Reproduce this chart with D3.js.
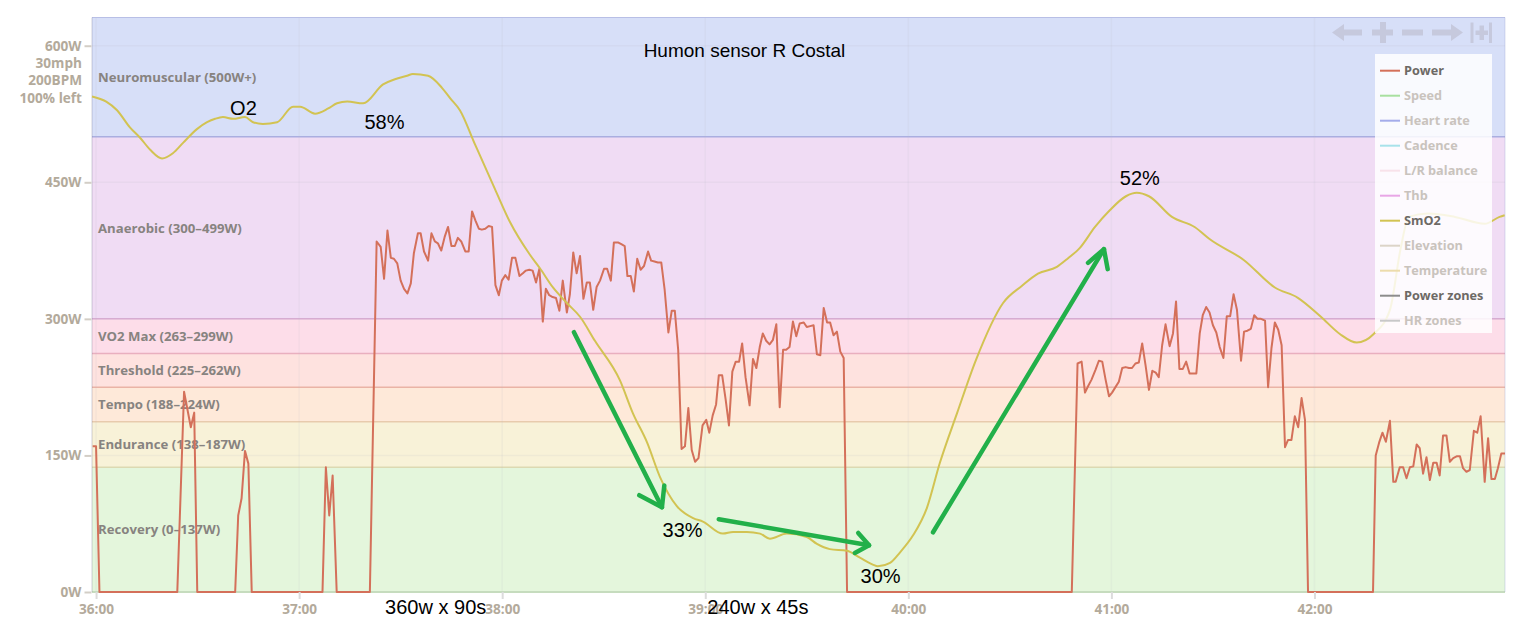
<!DOCTYPE html>
<html><head><meta charset="utf-8">
<script src="https://cdn.jsdelivr.net/npm/d3@7"></script>
<style>
html,body{margin:0;padding:0;background:#fff;}
svg{display:block;}
</style></head>
<body>
<svg id="chart" width="1528" height="622"></svg>
<script>
// ---------- DATA ----------
const chartTitle = "Humon sensor R Costal";
const startSec = 2160; // 36:00
const timeTicks = [2160, 2220, 2280, 2340, 2400, 2460, 2520];
const timeTickLabels = ["36:00", "37:00", "38:00", "39:00", "40:00", "41:00", "42:00"];
const powerTicks = [0, 150, 300, 450, 600];
const powerTickLabels = ["0W", "150W", "300W", "450W", "600W"];
const extraAxisLabels = ["30mph", "200BPM", "100% left"];

const zoneNames = ["Recovery (0–137W)", "Endurance (138–187W)", "Tempo (188–224W)", "Threshold (225–262W)", "VO2 Max (263–299W)", "Anaerobic (300–499W)", "Neuromuscular (500W+)"];
const zoneLower = [0, 137, 187, 225, 262, 300, 500];
const zoneFill = ["#e4f6dc", "#f8f2d8", "#fee9d9", "#fee2df", "#fddde9", "#f0dcf4", "#d7dff8"];
const zoneLine = ["#c6dcbe", "#dcd9b2", "#e8cbad", "#eab3a6", "#e9afbf", "#dbaad3", "#aaaee0"];

// seconds after 36:00
const powerSec = [-1.0,0,1.0,24.0,26.0,28.0,29.0,29.9,41.1,42.0,43.0,44.0,45.0,46.0,66.9,67.9,68.9,69.9,71.1,80.9,
 82.9,84.1,85.1,86.1,87.1,88.0,89.0,90.0,91.0,92.0,93.0,93.9,95.1,95.9,96.9,98.1,99.1,100.1,101.0,102.0,103.0,104.0,105.0,106.0,106.9,107.9,109.1,110.1,111.1,112.1,113.1,114.0,115.0,116.0,117.0,118.0,119.0,119.9,120.9,121.9,122.9,123.9,125.1,126.1,127.0,128.0,129.0,130.0,131.0,132.0,132.9,133.9,134.9,135.9,136.9,137.9,139.1,140.0,141.0,142.0,143.0,144.0,145.0,145.9,146.9,147.9,148.9,150.1,151.0,152.1,153.0,154.2,155.2,156.2,157.0,158.0,158.9,159.9,160.9,161.9,163.1,164.0,165.0,166.0,167.0,168.0,169.1,170.1,171.0,172.0,173.0,174.0,175.0,176.0,177.0,178.0,179.2,180.3,181.2,182.2,183.2,184.0,185.0,186.0,187.0,188.0,189.0,190.0,190.9,191.9,193.1,194.1,195.1,196.1,197.0,198.0,199.0,200.0,201.0,202.0,203.0,203.9,204.9,205.9,206.9,207.9,209.1,210.0,211.0,212.0,213.0,214.0,215.0,216.0,216.9,217.9,218.9,219.9,220.9,221.9,
 288.3,290.0,291.2,292.2,293.1,294.1,295.3,296.3,297.3,298.3,299.3,300.2,301.2,302.2,303.2,304.2,305.2,306.1,307.1,308.1,309.1,310.1,311.1,312.1,313.1,314.0,315.0,316.0,317.2,318.2,319.1,320.1,321.1,322.1,323.1,324.1,325.1,326.1,327.0,328.0,329.0,330.0,331.0,332.0,333.1,334.1,335.1,336.1,337.1,338.3,339.2,340.2,341.2,342.2,343.2,344.2,345.4,346.3,347.3,348.3,349.3,350.3,351.3,352.2,353.2,354.2,355.2,356.2,357.2,358.1,
 377.3,378.1,379.1,380.1,381.1,382.3,383.3,384.0,385.2,386.2,387.2,388.2,389.2,390.2,391.1,392.1,393.1,394.1,395.1,396.1,397.0,398.0,399.0,400.0,401.0,402.0,403.0,403.9,404.9,405.9,407.1,408.1,409.1,410.3,411.3,412.3,413.3,414.2,415.2,416.3];
const powerW = [160,160,0,0,220,181,197,0,0,84,103,155,141,0,0,137,84,128,0,0,
 385,379,344,397,367,366,361,342,333,328,339,372,394,394,374,364,394,385,383,375,390,401,380,380,389,385,374,374,418,408,399,398,399,402,401,337,326,342,348,343,367,367,347,350,353,354,353,340,355,297,333,326,324,323,309,342,307,327,373,350,369,322,340,340,310,335,342,355,355,342,384,384,382,380,347,347,330,366,354,358,374,364,363,362,362,332,285,309,309,266,157,160,202,156,143,147,183,189,175,194,206,238,238,212,183,242,253,253,273,236,205,256,246,269,284,276,272,277,294,203,266,266,269,297,281,295,296,291,292,293,261,260,312,296,296,282,286,264,257,0,
 0,251,253,219,226,233,244,254,253,233,215,219,225,231,246,247,246,246,251,252,273,249,222,243,241,236,271,294,270,284,319,245,245,253,240,240,240,284,304,313,307,293,285,269,257,303,303,327,310,254,286,287,289,304,300,300,298,225,268,296,288,271,159,167,167,193,181,213,189,0,
 0,150,164,175,165,188,121,121,137,137,125,137,138,162,158,130,148,123,142,142,128,172,172,143,147,149,149,136,132,134,177,175,193,121,169,124,124,136,152,152];

const smo2Sec = [-1.2,3.0,6.2,10.0,13.0,16.0,19.5,22.7,25.7,29.8,32.8,35.2,37.5,40.5,44.0,46.4,49.3,53.5,58.2,60.3,64.7,68.6,71.2,74.2,78.9,84.8,88.3,91.9,93.6,98.1,102.2,104.6,107.5,112.0,117.9,122.3,128.2,131.2,135.0,139.1,143.0,147.4,154.8,158.6,162.8,166.6,171.6,176.4,179.3,185.2,188.2,192.3,196.2,199.1,204.1,210.0,213.0,216.8,221.9,225.7,229.5,231.0,234.6,237.5,241.4,245.5,249.3,254.4,260.0,268.0,273.6,278.3,283.9,287.2,290.7,295.1,299.6,304.3,307.5,311.1,317.9,324.7,329.1,339.1,348.3,355.1,361.9,367.5,372.5,377.5,382.3,385.5,387.9,393.5,401.5,410.3,414.7,416.2];
const smo2Pct = [57.3,57.0,56.5,55.5,54.9,54.2,53.7,54.0,54.6,55.4,55.8,56.0,56.1,56.0,56.1,55.8,55.7,55.8,56.7,56.7,56.3,56.6,56.9,57.0,56.9,58.0,58.3,58.5,58.6,58.5,57.8,57.2,56.5,54.5,51.9,50.0,48.1,47.3,46.2,45.3,44.5,43.1,40.8,38.9,37.2,35.2,33.5,32.8,32.6,31.9,32.0,32.0,31.9,31.6,31.9,31.7,31.3,31.0,30.9,30.5,30.1,30.0,30.2,30.8,31.8,33.4,36.0,38.9,42.0,45.3,46.3,47.0,47.4,47.9,48.5,49.7,50.7,51.5,51.7,51.5,50.3,49.7,49.0,47.8,46.2,45.6,44.5,43.5,43.0,43.5,44.9,48.5,50.3,50.5,50.3,49.9,50.3,50.4];

const legendNames = ["Power", "Speed", "Heart rate", "Cadence", "L/R balance", "Thb", "SmO2", "Elevation", "Temperature", "Power zones", "HR zones"];
const legendColors = ["#d4705a", "#a8e0a0", "#a4acea", "#a8e2ea", "#f8e2ea", "#e8a6e6", "#d2c352", "#dcd4c8", "#ecdcac", "#8c8c8c", "#c8c8c8"];
const legendActive = [true, false, false, false, false, false, true, false, false, true, false];

// hand annotations (seconds after 36:00, watts)
const noteTexts = ["O2", "58%", "52%", "33%", "30%", "360w x 90s", "240w x 45s"];
const noteSec = [39.6, 79.3, 302.5, 167.4, 225.9, 85.4, 180.6];
const noteW = [523.8, 508.5, 446.9, 60.1, 9.6, -24.5, -24.5];
const arrowStartSec = [141.2, 184.0, 247.3];
const arrowStartW = [285.4, 79.9, 65.6];
const arrowTipSec = [167.2, 228.4, 297.8];
const arrowTipW = [93.1, 51.3, 376.6];
const arrowWing1Sec = [160.5, 225.2, 293.1];
const arrowWing1W = [106.3, 64.8, 361.5];
const arrowWing2Sec = [167.9, 224.2, 298.9];
const arrowWing2W = [116.9, 42.9, 354.6];

// ---------- CHART ----------
const svg = d3.select("#chart");
const L = 92, R = 1505, T = 17.5, B = 592;
const x = d3.scaleLinear().domain([2158.8, 2576.3]).range([L, R]);
const y = d3.scaleLinear().domain([0, 631]).range([B, T]);
const ySm = d3.scaleLinear().domain([30, 58.6]).range([y(28.2), y(568.9)]);
const axisFont = "'Open Sans', 'DejaVu Sans', sans-serif";
const axisColor = "#b3aa9b";

// zone bands
const zoneTop = zoneLower.map((v, i) => i < zoneLower.length - 1 ? zoneLower[i + 1] : 631);
const zg = svg.append("g");
zoneNames.forEach((n, i) => {
  zg.append("rect").attr("x", L).attr("width", R - L)
    .attr("y", y(zoneTop[i])).attr("height", y(zoneLower[i]) - y(zoneTop[i]))
    .attr("fill", zoneFill[i]);
});
// grid
const gg = svg.append("g");
timeTicks.forEach(t => gg.append("line").attr("x1", x(t)).attr("x2", x(t)).attr("y1", T).attr("y2", B)
  .attr("stroke", "rgba(190,190,200,0.12)").attr("stroke-width", 1.5));
powerTicks.slice(1).forEach(p => gg.append("line").attr("x1", L).attr("x2", R).attr("y1", y(p)).attr("y2", y(p))
  .attr("stroke", "rgba(190,190,200,0.15)").attr("stroke-width", 1.5));
// zone border lines
zoneNames.forEach((n, i) => {
  if (i === 0) return;
  zg.append("line").attr("x1", L).attr("x2", R).attr("y1", y(zoneLower[i])).attr("y2", y(zoneLower[i]))
    .attr("stroke", zoneLine[i]).attr("stroke-width", 1.5);
});
svg.append("line").attr("x1", L).attr("x2", R).attr("y1", B).attr("y2", B).attr("stroke", zoneLine[0]).attr("stroke-width", 2);
svg.append("line").attr("x1", L).attr("x2", R).attr("y1", T).attr("y2", T).attr("stroke", "#b8bfe6").attr("stroke-width", 1.2);
svg.append("line").attr("x1", R).attr("x2", R).attr("y1", T).attr("y2", B).attr("stroke", "rgba(150,160,210,0.35)").attr("stroke-width", 1);
svg.append("line").attr("x1", L).attr("x2", L).attr("y1", T).attr("y2", B).attr("stroke", "rgba(120,120,150,0.22)").attr("stroke-width", 1.5);

// zone labels
zoneNames.forEach((n, i) => {
  svg.append("text").attr("x", 98).attr("y", (y(zoneLower[i]) + y(zoneTop[i])) / 2).attr("dy", "0.36em")
    .attr("font-family", axisFont).attr("font-weight", "bold").attr("font-size", 13.2)
    .attr("fill", "#878380").text(n);
});

// power line
const powerData = powerSec.map((s, i) => [startSec + s, powerW[i]]);
svg.append("path").datum(powerData)
  .attr("d", d3.line().x(d => x(d[0])).y(d => y(d[1])))
  .attr("fill", "none").attr("stroke", "#d4705a").attr("stroke-width", 2).attr("stroke-linejoin", "round");

// SmO2 line
const smData = smo2Sec.map((s, i) => [startSec + s, smo2Pct[i]]);
svg.append("path").datum(smData)
  .attr("d", d3.line().x(d => x(d[0])).y(d => ySm(d[1])).curve(d3.curveMonotoneX))
  .attr("fill", "none").attr("stroke", "#d2c352").attr("stroke-width", 2);

// axes
const yAxis = d3.axisLeft(y).tickValues(powerTicks).tickFormat((d, i) => powerTickLabels[i]).tickSize(7).tickPadding(3);
const ya = svg.append("g").attr("transform", `translate(${L - 0.5},0)`).call(yAxis);
ya.select(".domain").remove();
ya.selectAll("line").attr("stroke", "#d3cec6").attr("stroke-width", 2);
ya.selectAll("text").attr("font-family", axisFont).attr("font-weight", "bold").attr("font-size", 13.6).attr("fill", axisColor);
extraAxisLabels.forEach((t, i) => {
  svg.append("text").attr("x", 82).attr("y", y(600) + 17.5 * (i + 1)).attr("dy", "0.32em").attr("text-anchor", "end")
    .attr("font-family", axisFont).attr("font-weight", "bold").attr("font-size", 13.6).attr("fill", axisColor).text(t);
});
const xAxis = d3.axisBottom(x).tickValues(timeTicks).tickFormat((d, i) => timeTickLabels[i]).tickSize(7).tickPadding(5);
const xa = svg.append("g").attr("transform", `translate(0,${B})`).call(xAxis);
xa.select(".domain").remove();
xa.selectAll("line").attr("stroke", "#dcdcdc").attr("stroke-width", 2);
xa.selectAll("text").attr("font-family", axisFont).attr("font-weight", "bold").attr("font-size", 13.6).attr("fill", axisColor);

// legend
const lg = svg.append("g");
lg.append("rect").attr("x", 1375).attr("y", 54).attr("width", 117).attr("height", 279).attr("fill", "rgba(255,255,255,0.84)");
legendNames.forEach((n, i) => {
  const yy = 70.7 + 25 * i;
  lg.append("line").attr("x1", 1380).attr("x2", 1400).attr("y1", yy).attr("y2", yy)
    .attr("stroke", legendColors[i]).attr("stroke-width", 2);
  lg.append("text").attr("x", 1404).attr("y", yy).attr("dy", "0.35em")
    .attr("font-family", axisFont).attr("font-weight", "bold").attr("font-size", 12.7)
    .attr("fill", legendActive[i] ? "#6d6965" : "#c9c3bd").text(n);
});

// navigation icons (chart chrome)
const nav = svg.append("g").attr("fill", "#c6c9dd");
nav.append("path").attr("d", "M1332,32.5 L1344,24 L1344,29.5 L1362,29.5 L1362,35.5 L1344,35.5 L1344,41 Z");
nav.append("path").attr("d", "M1372,29.5 H1380 V22 H1386 V29.5 H1393 V35.5 H1386 V43 H1380 V35.5 H1372 Z");
nav.append("rect").attr("x", 1402).attr("y", 29.5).attr("width", 21).attr("height", 6);
nav.append("path").attr("d", "M1463,32.5 L1451,24 L1451,29.5 L1432,29.5 L1432,35.5 L1451,35.5 L1451,41 Z");
nav.append("rect").attr("x", 1470.5).attr("y", 22.5).attr("width", 3).attr("height", 20.5);
nav.append("rect").attr("x", 1489).attr("y", 22.5).attr("width", 3).attr("height", 20.5);
nav.append("path").attr("d", "M1475.5,30.5 H1479.5 V25.5 H1484 V30.5 H1488 V35 H1484 V40 H1479.5 V35 H1475.5 Z");

// title & annotations
svg.append("text").attr("x", 744.5).attr("y", 57).attr("text-anchor", "middle")
  .attr("font-family", "'Liberation Sans', Arial, sans-serif").attr("font-size", 19).attr("fill", "#000").text(chartTitle);
noteTexts.forEach((t, i) => {
  svg.append("text").attr("x", x(startSec + noteSec[i])).attr("y", y(noteW[i]))
    .attr("font-family", "'Liberation Sans', Arial, sans-serif").attr("font-size", 20).attr("fill", "#000").text(t);
});
const ag = svg.append("g").attr("stroke", "#22b04a").attr("stroke-width", 4.5).attr("stroke-linecap", "round").attr("fill", "none");
arrowStartSec.forEach((s, i) => {
  const tip = [x(startSec + arrowTipSec[i]), y(arrowTipW[i])];
  ag.append("line").attr("x1", x(startSec + s)).attr("y1", y(arrowStartW[i])).attr("x2", tip[0]).attr("y2", tip[1]);
  ag.append("polyline").attr("points", [
    [x(startSec + arrowWing1Sec[i]), y(arrowWing1W[i])], tip, [x(startSec + arrowWing2Sec[i]), y(arrowWing2W[i])]
  ].map(p => p.join(",")).join(" ")).attr("stroke-linejoin", "round");
});
</script>
</body></html>
